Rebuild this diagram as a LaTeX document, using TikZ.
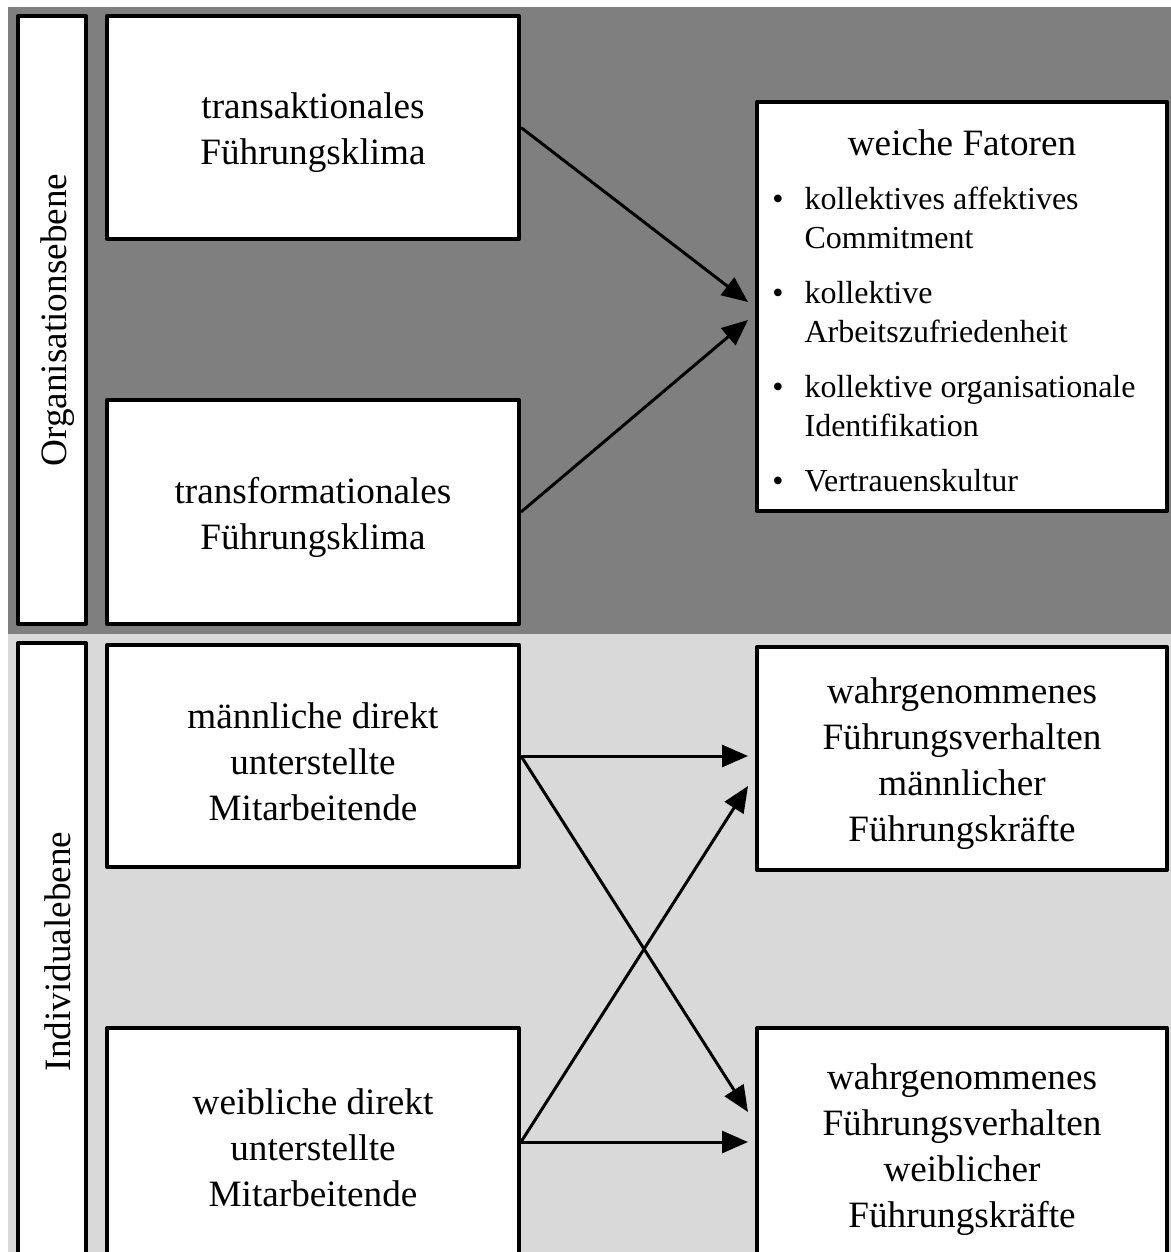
\documentclass[tikz,border=0pt]{standalone}
\usepackage{fontspec}
\setmainfont{Liberation Serif}
\usetikzlibrary{arrows.meta}
\definecolor{dunkel}{HTML}{7F7F7F}
\definecolor{hell}{HTML}{D9D9D9}
\newcommand{\gross}{\fontsize{18.6}{23}\selectfont}
\newcommand{\klein}{\fontsize{16}{19.5}\selectfont}
\newcommand{\oben}{\rule{0pt}{18.5pt}}
\begin{document}
\begin{tikzpicture}[x=0.5pt,y=-0.5pt,
		kasten/.style={draw,fill=white,line width=2pt,line join=round,align=center,inner sep=0pt,font=\gross},
		ebene/.style={kasten,rotate=90,minimum height=34pt},
		pfeil/.style={-{Triangle[length=13pt,width=11pt]},line width=1.5pt}]
	\useasboundingbox (0,0) rectangle (1171,1252) ;
	\clip (0,0) rectangle (1171,1252) ;
	\fill[dunkel] (8,7) rectangle (1171,634) ;
	\fill[hell] (8,634) rectangle (1171,1252) ;
	% Ebenen
	\node[ebene,minimum width=304pt] (org) at (52,320) {\oben Organisationsebene} ;
	\node[ebene,minimum width=308.5pt] (ind) at (52,951.5) {\oben Individualebene} ;
	% linke Spalte
	\node[kasten,minimum width=206pt,minimum height=111.5pt] (trans) at (313,127.5) {\oben transaktionales\\Führungsklima} ;
	\node[kasten,minimum width=206pt,minimum height=112pt] (transf) at (313,512) {\oben transformationales\\Führungsklima} ;
	\node[kasten,minimum width=206pt,minimum height=111pt] (maenn) at (313,756) {\oben männliche direkt\\unterstellte\\Mitarbeitende} ;
	\node[kasten,minimum width=206pt,minimum height=114pt] (weibl) at (313,1142) {\oben weibliche direkt\\unterstellte\\Mitarbeitende} ;
	% rechte Spalte
	\node[kasten,minimum width=205pt,minimum height=204.5pt] (weich) at (962,306.5) {} ;
	\node[font=\gross,inner sep=0pt] (weichtitel) at (962,143) {weiche Fatoren} ;
	\node[font=\klein,inner sep=0pt,anchor=north west] (weichliste) at (772,182) {\klein
		\begin{tabular}{@{}l@{\hspace{10.5pt}}l@{}}
			\textbullet & kollektives affektives\\ & Commitment\\[8pt]
			\textbullet & kollektive\\ & Arbeitszufriedenheit\\[8pt]
			\textbullet & kollektive organisationale\\ & Identifikation\\[8pt]
			\textbullet & Vertrauenskultur
		\end{tabular}} ;
	\node[kasten,minimum width=205pt,minimum height=111.5pt] (wm) at (962,758.5) {\oben wahrgenommenes\\Führungsverhalten\\männlicher\\Führungskräfte} ;
	\node[kasten,minimum width=205pt,minimum height=116pt] (ww) at (962,1144) {\oben wahrgenommenes\\Führungsverhalten\\weiblicher\\Führungskräfte} ;
	% Pfeile
	\coordinate (z1) at (748,302) ; \coordinate (z2) at (748,320) ;
	\coordinate (z4) at (748,786) ; \coordinate (z5) at (748,1112) ;
	\draw[pfeil] (trans.east) -- (z1) ;
	\draw[pfeil] (transf.east) -- (z2) ;
	\draw[pfeil] (maenn.east) -- (maenn.east -| z1) ;
	\draw[pfeil] (maenn.east) -- (z5) ;
	\draw[pfeil] (weibl.east) -- (z4) ;
	\draw[pfeil] (weibl.east) -- (weibl.east -| z1) ;
\end{tikzpicture}
\end{document}
